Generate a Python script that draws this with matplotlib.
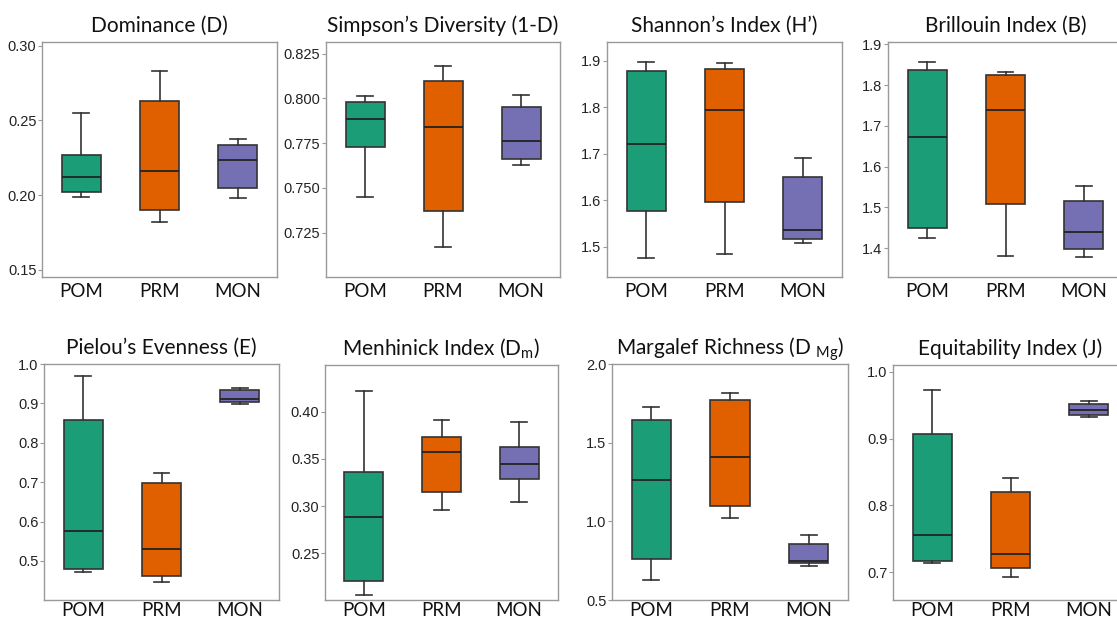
import matplotlib
matplotlib.use("Agg")
import matplotlib.pyplot as plt

# Groups and colours (Dark2-like)
groups = ["POM", "PRM", "MON"]
colors = ["#1b9e77", "#e06000", "#7570b3"]

# five-number summaries per index: [whislo, q1, med, q3, whishi] for POM, PRM, MON
dominance = [[0.1986, 0.2023, 0.2120, 0.2269, 0.2552],
             [0.1818, 0.1903, 0.2164, 0.2630, 0.2830],
             [0.1980, 0.2046, 0.2237, 0.2336, 0.2374]]
simpson = [[0.7450, 0.7730, 0.7882, 0.7977, 0.8014],
           [0.7170, 0.7373, 0.7838, 0.8097, 0.8183],
           [0.7626, 0.7663, 0.7761, 0.7953, 0.8019]]
shannon = [[1.476, 1.578, 1.722, 1.878, 1.898],
           [1.486, 1.597, 1.795, 1.883, 1.895],
           [1.509, 1.517, 1.537, 1.651, 1.692]]
brillouin = [[1.4235, 1.4504, 1.6717, 1.8364, 1.8577],
             [1.3795, 1.5090, 1.7390, 1.8257, 1.8322],
             [1.3770, 1.3976, 1.4383, 1.5158, 1.5526]]
pielou = [[0.4728, 0.4789, 0.5760, 0.8584, 0.9695],
          [0.4458, 0.4626, 0.5297, 0.6983, 0.7229],
          [0.8983, 0.9040, 0.9110, 0.9330, 0.9398]]
menhinick = [[0.2055, 0.2210, 0.2888, 0.3358, 0.4222],
             [0.2955, 0.3150, 0.3570, 0.3735, 0.3915],
             [0.3043, 0.3284, 0.3449, 0.3626, 0.3894]]
margalef = [[0.626, 0.759, 1.262, 1.644, 1.728],
            [1.020, 1.098, 1.410, 1.773, 1.816],
            [0.715, 0.734, 0.749, 0.859, 0.914]]
equitability = [[0.7141, 0.7171, 0.7557, 0.9064, 0.9726],
                [0.6930, 0.7070, 0.7274, 0.8200, 0.8414],
                [0.9327, 0.9352, 0.9423, 0.9521, 0.9562]]

titles = ["Dominance (D)", "Simpson\u2019s Diversity (1-D)", "Shannon\u2019s Index (H\u2019)",
          "Brillouin Index (B)", "Pielou\u2019s Evenness (E)", "Menhinick Index (D$_{\\mathrm{m}}$)",
          "Margalef Richness (D $_{\\mathrm{Mg}}$)", "Equitability Index (J)"]
panels = [dominance, simpson, shannon, brillouin, pielou, menhinick, margalef, equitability]
ylims = [(0.1453, 0.3025), (0.7002, 0.8315), (1.4356, 1.940), (1.329, 1.9056),
         (0.4009, 1.0), (0.2005, 0.4495), (0.5, 2.0), (0.6586, 1.010)]
yticks = [[0.15, 0.20, 0.25, 0.30], [0.725, 0.750, 0.775, 0.800, 0.825],
          [1.5, 1.6, 1.7, 1.8, 1.9], [1.4, 1.5, 1.6, 1.7, 1.8, 1.9],
          [0.5, 0.6, 0.7, 0.8, 0.9, 1.0], [0.25, 0.30, 0.35, 0.40],
          [0.5, 1.0, 1.5, 2.0], [0.7, 0.8, 0.9, 1.0]]
yfmt = ["%.2f", "%.3f", "%.1f", "%.1f", "%.1f", "%.2f", "%.1f", "%.1f"]

# axes boxes in pixels: left, top, right, bottom
W, H = 1117, 620
boxes = [(42, 42, 277, 277), (326, 42, 560, 277), (607, 42, 842, 277), (888, 42, 1123, 277),
         (44, 364, 279, 600), (325, 365, 558, 600), (612, 364, 848, 600), (893, 365, 1128, 600)]

plt.rcParams["mathtext.fontset"] = "custom"
plt.rcParams["mathtext.rm"] = "Lato"

fig = plt.figure(figsize=(W / 100, H / 100), dpi=100)
fig.patch.set_facecolor("white")

for i, (data, title, ylim, yt, fmt, (l, t, r, b)) in enumerate(
        zip(panels, titles, ylims, yticks, yfmt, boxes)):
    ax = fig.add_axes([l / W, 1 - b / H, (r - l) / W, (b - t) / H])
    stats = [{"whislo": s[0], "q1": s[1], "med": s[2], "q3": s[3], "whishi": s[4],
              "fliers": [], "label": g} for s, g in zip(data, groups)]
    bp = ax.bxp(stats, positions=[1, 2, 3], widths=0.5, capwidths=0.2,
                patch_artist=True, showfliers=False,
                boxprops=dict(edgecolor="#333333", linewidth=1.2),
                medianprops=dict(color="#222222", linewidth=1.3),
                whiskerprops=dict(color="#333333", linewidth=1.2),
                capprops=dict(color="#333333", linewidth=1.2))
    for patch, c in zip(bp["boxes"], colors):
        patch.set_facecolor(c)
    ax.set_xlim(0.5, 3.5)
    ax.set_ylim(*ylim)
    ax.set_yticks(yt)
    ax.set_yticklabels([fmt % v for v in yt], fontfamily="Liberation Sans", fontsize=10.5,
                       color="#222222")
    ax.set_xticks([1, 2, 3])
    ax.set_xticklabels(groups, fontfamily="Lato", fontsize=13.5, color="#111111")
    ax.tick_params(axis="x", length=0, pad=4 if i < 4 else 1.5)
    ax.tick_params(axis="y", length=3, width=0.8, color="#999999", pad=1)
    for sp in ax.spines.values():
        sp.set_color("#999999")
        sp.set_linewidth(1.0)
    ax.set_title(title, fontfamily="Lato", fontsize=15, color="#111111", pad=7)

fig.savefig("out.png", dpi=100, facecolor="white")
